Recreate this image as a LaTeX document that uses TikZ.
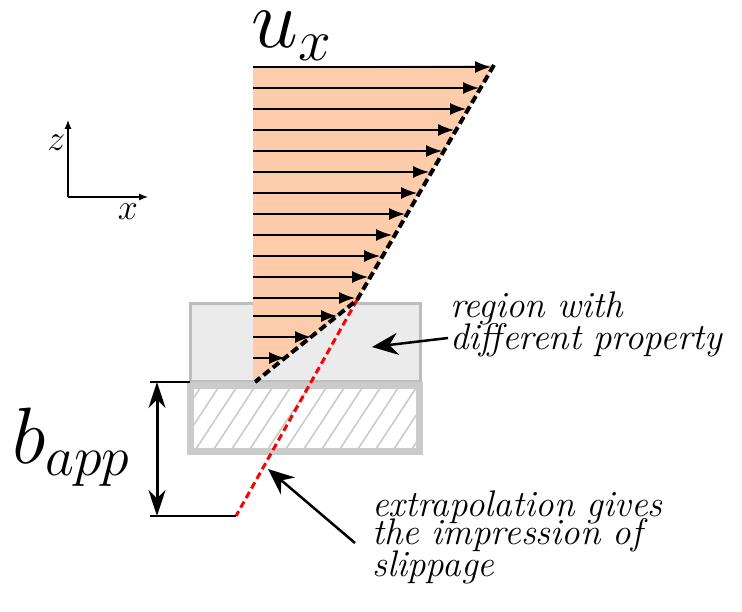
\RequirePackage{fix-cm}
\documentclass[tikz,border=0pt]{standalone}
\usepackage{fontspec}
\usetikzlibrary{arrows.meta, positioning}

\definecolor{peach}{RGB}{253,204,170}
\definecolor{boxgray}{RGB}{235,235,235}
\definecolor{edgegray}{RGB}{189,189,189}
\definecolor{hatchgray}{RGB}{203,203,203}
\newcommand{\tightlines}{\lineskiplimit-100pt\relax}

\begin{document}
\begin{tikzpicture}[x=1pt, y=-1pt,
    label/.style={inner sep=0pt, text width=330pt, align=left, font=\fontsize{37}{32}\selectfont\itshape\tightlines},
    symbol/.style={inner sep=0pt},
    velocity/.style={-{Latex[length=16pt, width=12pt]}, line width=1.3pt},
    leader/.style={-{Stealth[length=26pt, width=22pt]}, line width=2.5pt},
    profile/.style={line width=4pt, dash pattern=on 8pt off 4pt},
    extra/.style={red, line width=3pt, dash pattern=on 7pt off 4pt},
    axis/.style={-{Latex[length=9pt, width=7pt]}, line width=1.2pt}
]
    \useasboundingbox (0,0) rectangle (742,612);

    % key points of the profile
    \coordinate (top) at (494,65);
    \coordinate (kink) at (357,300);
    \coordinate (wall) at (255,382);
    \coordinate (slip) at (236,516);

    % region with different property and the wall
    \draw[edgegray, fill=boxgray, line width=3pt] (190,303.5) rectangle (420,382);
    \begin{scope}
        \clip (194,389) rectangle (416,448);
        \foreach \x in {140,158,...,430}
            \draw[hatchgray, line width=1.6pt] (\x,452) -- ++(46,-70);
    \end{scope}
    \draw[hatchgray, line width=7pt] (190.5,385.5) rectangle (419.5,451.5);

    % velocity profile
    \fill[peach] (253,67) -- (top) -- (kink) -- (wall) -- (253,382) -- cycle;
    \foreach \y/\x in {67/491, 88/479, 109/466, 130/454, 151/442, 172/429,
                       193/417, 214/405, 235/392, 256/380, 277/368, 298/355,
                       316/337, 337/311, 358/285}
        \draw[velocity] (253,\y) -- (\x,\y);
    \draw[extra] (kink) -- (slip);
    \draw[profile] (top) -- (kink) -- (wall);

    % apparent slip length
    \coordinate (wallend) at (150,382);
    \coordinate (slipend) at (150,516);
    \draw[line width=1.5pt] (wallend) -- (190,382);
    \draw[line width=1.5pt] (slipend) -- (slip);
    \draw[{Stealth[length=26pt, width=17pt]}-{Stealth[length=26pt, width=17pt]}, line width=3pt]
        ([xshift=7pt]wallend) -- ([xshift=7pt]slipend);
    \node[symbol, anchor=base west, font=\fontsize{80}{80}\selectfont] (bapp) at (12,463) {$b_{app}$};
    \node[symbol, anchor=base west, font=\fontsize{84}{84}\selectfont] (ux) at (251,48) {$u_x$};

    % annotations
    \node[label, anchor=base west] (region) at (450,318) {region with\\different property};
    \node[label, anchor=base west] (extrap) at (372,516) {\fontsize{37}{28}\selectfont extrapolation gives\\the impression of\\slippage};
    \coordinate (regiontip) at (372,347);
    \coordinate (sliptip) at (268,469);
    \draw[leader] ([shift={(-2,20)}]region.base west) -- (regiontip);
    \draw[leader] ([shift={(-17,27)}]extrap.base west) -- (sliptip);

    % axes
    \coordinate (origin) at (68,197);
    \draw[axis] (origin) -- (68,120) node[symbol, font=\fontsize{36}{36}\selectfont, pos=0.7, left=2pt] (zlab) {$z$};
    \draw[axis] (origin) -- (148,197) node[symbol, font=\fontsize{36}{36}\selectfont, pos=0.75, below=6pt] (xlab) {$x$};
\end{tikzpicture}
\end{document}
